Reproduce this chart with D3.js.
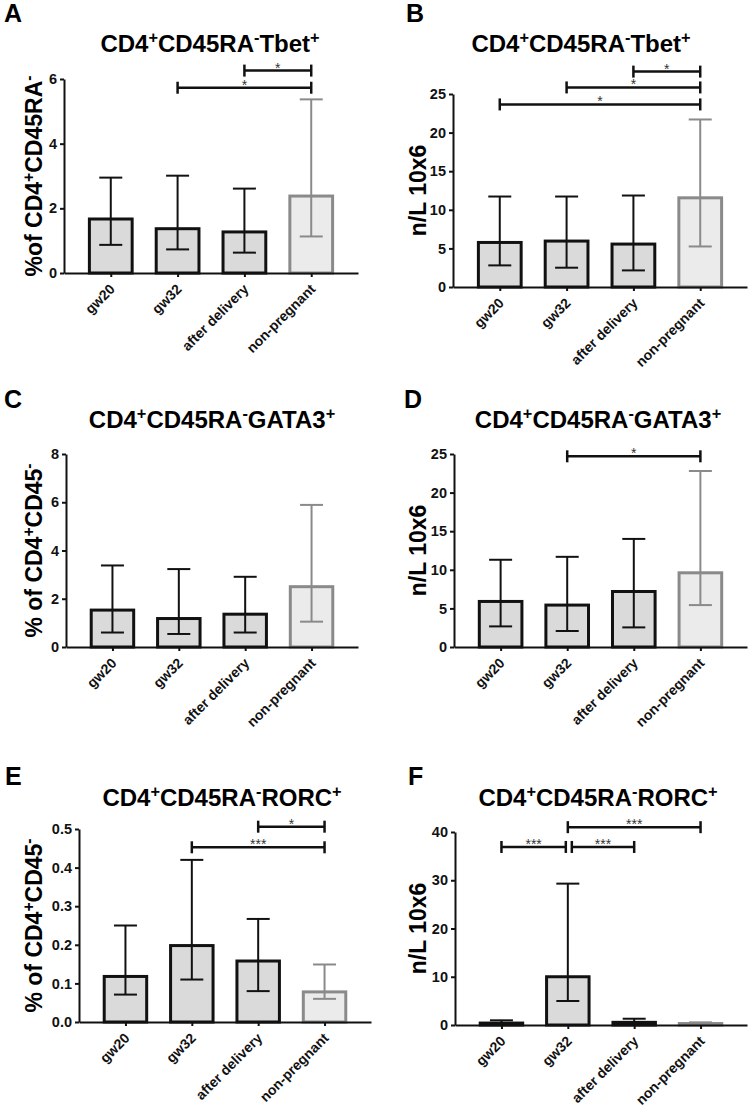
<!DOCTYPE html>
<html>
<head>
<meta charset="utf-8">
<script src="https://cdn.jsdelivr.net/npm/d3@7/dist/d3.min.js"></script>
<style>
body { margin: 0; background: #fff; }
svg { display: block; }
text { font-family: "Liberation Sans", Arial, sans-serif; font-weight: bold; }
</style>
</head>
<body>
<div id="chart"></div>
<script>
const groups = ["gw20", "gw32", "after delivery", "non-pregnant"];

// A: Tbet, % of CD4+CD45RA-
const tbetPctMean = [1.67, 1.37, 1.27, 2.38];
const tbetPctLow  = [0.87, 0.73, 0.63, 1.13];
const tbetPctHigh = [2.95, 3.01, 2.61, 5.37];
const tbetPctTicks = [0, 2, 4, 6];
const tbetPctSig = [[2, 3, 6.26, "*"], [1, 3, 5.73, "*"]];

// B: Tbet, absolute count
const tbetAbsMean = [5.77, 5.95, 5.56, 11.55];
const tbetAbsLow  = [2.8, 2.5, 2.15, 5.25];
const tbetAbsHigh = [11.72, 11.72, 11.85, 21.7];
const tbetAbsTicks = [0, 5, 10, 15, 20, 25];
const tbetAbsSig = [[2, 3, 27.9, "*"], [1, 3, 25.85, "*"], [0, 3, 23.65, "*"]];

// C: GATA3, % of CD4+CD45-
const gataPctMean = [1.53, 1.18, 1.36, 2.5];
const gataPctLow  = [0.6, 0.54, 0.6, 1.05];
const gataPctHigh = [3.38, 3.23, 2.91, 5.89];
const gataPctTicks = [0, 2, 4, 6, 8];
const gataPctSig = [];

// D: GATA3, absolute count
const gataAbsMean = [5.9, 5.43, 7.19, 9.61];
const gataAbsLow  = [2.67, 2.07, 2.54, 5.43];
const gataAbsHigh = [11.3, 11.68, 14.0, 22.8];
const gataAbsTicks = [0, 5, 10, 15, 20, 25];
const gataAbsSig = [[1, 3, 24.7, "*"]];

// E: RORC, % of CD4+CD45-
const rorcPctMean = [0.118, 0.198, 0.158, 0.078];
const rorcPctLow  = [0.071, 0.11, 0.08, 0.06];
const rorcPctHigh = [0.25, 0.42, 0.267, 0.149];
const rorcPctTicks = [0, 0.1, 0.2, 0.3, 0.4, 0.5];
const rorcPctSig = [[2, 3, 0.506, "*"], [1, 3, 0.4526, "***"]];

// F: RORC, absolute count
const rorcAbsMean = [0.4, 10.0, 0.55, 0.3];
const rorcAbsLow  = [0.1, 4.97, 0.1, 0.1];
const rorcAbsHigh = [0.97, 29.3, 1.3, 0.55];
const rorcAbsTicks = [0, 10, 20, 30, 40];
const rorcAbsSig = [[0, 1, 36.9, "***"], [1, 2, 36.9, "***"], [1, 3, 41.0, "***"]];

const W = 749, H = 1110;
const svg = d3.select("#chart").append("svg")
  .attr("width", W).attr("height", H);

const panels = [
  {letter: "A", lx: 4, ly: 22, title: "CD4^+CD45RA^-Tbet^+", tx: 210, ty: 52, ylab: "%of CD4^+CD45RA^-", ylx: 34,
   left: 64, right: 358, bottom: 273, top: 79, ticks: tbetPctTicks, fmt: d3.format("d"),
   mean: tbetPctMean, low: tbetPctLow, high: tbetPctHigh, sig: tbetPctSig},
  {letter: "B", lx: 406, ly: 22, title: "CD4^+CD45RA^-Tbet^+", tx: 581, ty: 52, ylab: "n/L 10x6", ylx: 418,
   left: 453, right: 747, bottom: 287, top: 94, ticks: tbetAbsTicks, fmt: d3.format("d"),
   mean: tbetAbsMean, low: tbetAbsLow, high: tbetAbsHigh, sig: tbetAbsSig},
  {letter: "C", lx: 4, ly: 408, title: "CD4^+CD45RA^-GATA3^+", tx: 212, ty: 428, ylab: "% of CD4^+CD45^-", ylx: 34,
   left: 66, right: 358, bottom: 647, top: 454, ticks: gataPctTicks, fmt: d3.format("d"),
   mean: gataPctMean, low: gataPctLow, high: gataPctHigh, sig: gataPctSig},
  {letter: "D", lx: 404, ly: 408, title: "CD4^+CD45RA^-GATA3^+", tx: 598, ty: 428, ylab: "n/L 10x6", ylx: 418,
   left: 454, right: 747, bottom: 647, top: 454, ticks: gataAbsTicks, fmt: d3.format("d"),
   mean: gataAbsMean, low: gataAbsLow, high: gataAbsHigh, sig: gataAbsSig},
  {letter: "E", lx: 5, ly: 785, title: "CD4^+CD45RA^-RORC^+", tx: 222, ty: 806, ylab: "% of CD4^+CD45^-", ylx: 34,
   left: 79, right: 371, bottom: 1022, top: 829, ticks: rorcPctTicks, fmt: d3.format(".1f"),
   mean: rorcPctMean, low: rorcPctLow, high: rorcPctHigh, sig: rorcPctSig},
  {letter: "F", lx: 408, ly: 785, title: "CD4^+CD45RA^-RORC^+", tx: 598, ty: 806, ylab: "n/L 10x6", ylx: 418,
   left: 455, right: 747, bottom: 1025, top: 832, ticks: rorcAbsTicks, fmt: d3.format("d"),
   mean: rorcAbsMean, low: rorcAbsLow, high: rorcAbsHigh, sig: rorcAbsSig}
];

// writes "CD4^+CD45" style strings, ^x = superscript x
function rich(sel, str) {
  str.split(/(\^.)/).filter(s => s).forEach(p => {
    if (p[0] === "^") {
      sel.append("tspan").attr("font-size", "0.68em").attr("baseline-shift", "super").text(p[1]);
    } else {
      sel.append("tspan").text(p);
    }
  });
}

panels.forEach(p => {
  const g = svg.append("g");
  const x = d3.scalePoint().domain(groups).range([p.left, p.right]).padding(0.7);
  const y = d3.scaleLinear().domain([0, d3.max(p.ticks)]).range([p.bottom, p.top]);
  const bw = x.step() * 0.64;
  const cap = 23;

  g.append("text").attr("x", p.lx).attr("y", p.ly)
    .attr("font-size", 25).text(p.letter);

  const t = g.append("text").attr("x", p.tx).attr("y", p.ty)
    .attr("text-anchor", "middle").attr("font-size", 24);
  rich(t, p.title);

  const yl = g.append("text")
    .attr("transform", "translate(" + p.ylx + "," + ((p.top + p.bottom) / 2) + ") rotate(-90)")
    .attr("y", 8).attr("text-anchor", "middle").attr("font-size", 23);
  rich(yl, p.ylab);

  // bars
  g.selectAll("rect.bar")
    .data(groups)
    .enter()
    .append("rect")
    .attr("class", "bar")
    .attr("x", d => x(d) - bw / 2)
    .attr("y", (d, i) => y(p.mean[i]))
    .attr("width", bw)
    .attr("height", (d, i) => p.bottom - y(p.mean[i]))
    .attr("fill", (d, i) => i === 3 ? "#ebebeb" : "#dadada")
    .attr("stroke", (d, i) => i === 3 ? "#8a8a8a" : "#111")
    .attr("stroke-width", 3);

  // error bars
  groups.forEach((d, i) => {
    const col = i === 3 ? "#8a8a8a" : "#111";
    const cx = x(d);
    const eb = g.append("g").attr("stroke", col).attr("stroke-width", 2);
    eb.append("line").attr("x1", cx).attr("x2", cx)
      .attr("y1", y(p.low[i])).attr("y2", y(p.high[i]));
    [p.low[i], p.high[i]].forEach(v => {
      eb.append("line").attr("x1", cx - cap / 2).attr("x2", cx + cap / 2)
        .attr("y1", y(v)).attr("y2", y(v));
    });
  });

  // axes
  const yAxis = d3.axisLeft(y).tickValues(p.ticks).tickFormat(p.fmt).tickSize(4).tickSizeOuter(0).tickPadding(3);
  const ya = g.append("g").attr("transform", "translate(" + p.left + ",0)").call(yAxis);
  const xAxis = d3.axisBottom(x).tickSize(4).tickSizeOuter(0).tickFormat("");
  const xa = g.append("g").attr("transform", "translate(0," + p.bottom + ")").call(xAxis);
  [ya, xa].forEach(a => {
    a.select(".domain").attr("stroke", "#111").attr("stroke-width", 2);
    a.selectAll(".tick line").attr("stroke", "#111").attr("stroke-width", 2);
  });
  ya.selectAll(".tick text").attr("font-size", 14.5).attr("fill", "#111")
    .style("font-family", "'Liberation Sans', Arial, sans-serif").style("font-weight", "bold");

  g.selectAll("text.xlab")
    .data(groups)
    .enter()
    .append("text")
    .attr("class", "xlab")
    .attr("transform", d => "translate(" + (x(d) + 5) + "," + (p.bottom + 17) + ") rotate(-45)")
    .attr("text-anchor", "end")
    .attr("font-size", 14)
    .attr("fill", "#111")
    .text(d => d);

  // significance brackets
  p.sig.forEach(s => {
    let x1 = x(groups[s[0]]), x2 = x(groups[s[1]]);
    p.sig.forEach(o => {
      if (o === s || o[2] !== s[2]) return;
      if (o[1] === s[0]) x1 += 4;
      if (o[0] === s[1]) x2 -= 2;
    });
    const yy = y(s[2]);
    const br = g.append("g").attr("stroke", "#111").attr("stroke-width", 2.5);
    br.append("line").attr("x1", x1).attr("x2", x2).attr("y1", yy).attr("y2", yy);
    [x1, x2].forEach(xx => {
      br.append("line").attr("x1", xx).attr("x2", xx).attr("y1", yy - 6).attr("y2", yy + 6);
    });
    g.append("text").attr("x", (x1 + x2) / 2).attr("y", yy + 2)
      .attr("text-anchor", "middle").attr("font-size", 14)
      .attr("font-weight", "normal").style("font-weight", "normal")
      .attr("fill", "#333").text(s[3]);
  });
});
</script>
</body>
</html>
